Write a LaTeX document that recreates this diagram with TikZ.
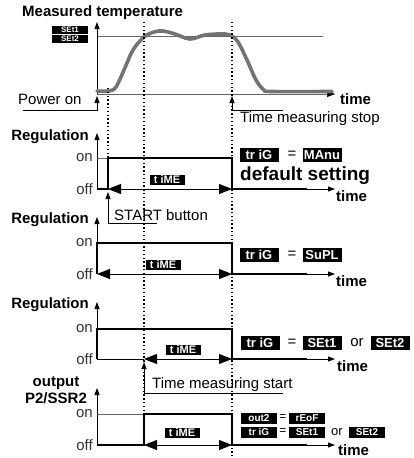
\documentclass[tikz,border=0pt]{standalone}
\usepackage{fontspec}
\setmainfont{Liberation Sans}
\usetikzlibrary{arrows.meta}
\tikzset{
  lbl/.style={font=\fontsize{15}{17}\selectfont, inner sep=0pt},
  bflbl/.style={font=\bfseries\fontsize{15}{17}\selectfont, inner sep=0pt},
  lvl/.style={font=\fontsize{15}{17}\selectfont, inner sep=0pt, anchor=east, text=black!80},
  disp/.style={fill=black, text=white, font=\bfseries\fontsize{13}{13}\selectfont, inner sep=0pt, minimum width=39pt, minimum height=14pt},
  disptm/.style={disp, font=\bfseries\fontsize{11}{11}\selectfont, minimum width=35pt, minimum height=10pt},
  dispsm/.style={disp, font=\bfseries\fontsize{10}{10}\selectfont, minimum width=36pt, minimum height=11pt},
  disptiny/.style={disp, font=\bfseries\fontsize{8}{8}\selectfont, minimum width=36pt, minimum height=8pt},
  thickline/.style={line width=2.8pt, line join=miter},
  thinline/.style={line width=0.7pt, black!60},
  axisarrow/.style={line width=0.8pt, -{Triangle[length=7pt,width=5pt]}},
  spanarrow/.style={line width=0.8pt, {Triangle[length=13pt,width=10pt]}-{Triangle[length=13pt,width=10pt]}},
  dotline/.style={line width=1.2pt, dash pattern=on 1.4pt off 2.4pt},
  tempcurve/.style={line width=3.6pt, black!55, line cap=round}
}
\begin{document}
\begin{tikzpicture}[x=1pt,y=-1pt]
\useasboundingbox (0,0) rectangle (413,458);
\node[bflbl, anchor=west] (mt) at (22,13) {Measured temperature};
\node[disptiny] (set1) at (70,30) {SEt1};
\node[disptiny] (set2) at (70,39) {SEt2};
\coordinate (a1) at (97,94);
\coordinate (a1top) at (97,22);
\coordinate (a1end) at (335,94);
\draw[thinline] (97,36) -- (323,36);
\draw[thinline, -{Triangle[length=8pt,width=6pt,black]}] (a1) -- (a1end);
\draw[axisarrow] (a1) -- (a1top);
\draw[tempcurve] plot[smooth, tension=0.55] coordinates {(97,91) (109,91) (116,87) (124,70) (133,50) (144,37) (154,32) (163,31) (175,34) (190,39) (205,35) (220,34) (230,35) (238,42) (247,60) (256,80) (264,90) (272,91.5) (332,91.5)};
\node[bflbl, anchor=west] (t1) at (340,99) {time};
\node[lbl, anchor=west] (pwr) at (18,99) {Power on};
\coordinate (pwrA) at (23,110);
\coordinate (pwrB) at (97,110);
\draw[axisarrow] (pwrA) -- (pwrB) -- (97,96);
\node[lbl, anchor=west] (stop) at (240,119) {Time measuring stop};
\coordinate (stopA) at (283,110);
\coordinate (stopB) at (232,110);
\draw[axisarrow] (stopA) -- (stopB) -- (232,96);
\draw[dotline] (108,88) -- (108,158);
\draw[dotline] (144,22) -- (144,414);
\draw[dotline] (232,22) -- (232,456);
% regulation, default
\node[bflbl, anchor=east] (reg2) at (89,137) {Regulation};
\draw[axisarrow] (97,189) -- (97,133);
\node[lvl] (on2) at (93,158) {on};
\node[lvl] (off2) at (93,189) {off};
\draw[thinline] (97,158) -- (108,158);
\draw[thickline] (97,189) -- (108,189) -- (108,158) -- (232,158) -- (232,189) -- (307,189);
\draw[axisarrow] (307,189) -- (335,189);
\draw[spanarrow] (108,189) -- (232,189);
\node[disptm] (tm2) at (167,180) {t iME};
\node[bflbl, anchor=west] (t2) at (336,196) {time};
\node[lbl, anchor=west] (start) at (114,215) {START button};
\coordinate (startA) at (157,223);
\coordinate (startB) at (108,223);
\draw[axisarrow] (startA) -- (startB) -- (108,192);
\node[disp] (trig2) at (259,155) {tr iG};
\node[lbl] (eq2) at (292,155) {=};
\node[disp] (manu) at (322,155) {MAnu};
\node[bflbl, anchor=west, font=\bfseries\fontsize{19}{21}\selectfont] (dflt) at (240,176) {default setting};
% regulation, SuPL
\node[bflbl, anchor=east] (reg3) at (89,220) {Regulation};
\draw[axisarrow] (97,274) -- (97,217);
\node[lvl] (on3) at (93,243) {on};
\node[lvl] (off3) at (93,274) {off};
\draw[thickline] (97,274) -- (97,243) -- (232,243) -- (232,274) -- (307,274);
\draw[axisarrow] (307,274) -- (335,274);
\draw[spanarrow] (97,274) -- (232,274);
\node[disptm] (tm3) at (163,265) {t iME};
\node[bflbl, anchor=west] (t3) at (336,281) {time};
\node[disp] (trig3) at (259,255) {tr iG};
\node[lbl] (eq3) at (292,255) {=};
\node[disp] (supl) at (322,255) {SuPL};
% regulation, SEt1 or SEt2
\node[bflbl, anchor=east] (reg4) at (89,305) {Regulation};
\draw[axisarrow] (97,359) -- (97,302);
\node[lvl] (on4) at (93,329) {on};
\node[lvl] (off4) at (93,359) {off};
\draw[thickline] (97,359) -- (97,329) -- (232,329) -- (232,359) -- (307,359);
\draw[line width=0.8pt] (97,359) -- (144,359);
\draw[axisarrow] (307,359) -- (335,359);
\draw[spanarrow] (144,359) -- (232,359);
\node[disptm] (tm4) at (183,350) {t iME};
\node[bflbl, anchor=west] (t4) at (337,366) {time};
\node[lbl, anchor=west] (mstart) at (152,385) {Time measuring start};
\coordinate (mstartA) at (283,393);
\coordinate (mstartB) at (144,393);
\draw[axisarrow] (mstartA) -- (mstartB) -- (144,362);
\node[disp] (trig4) at (260,343) {tr iG};
\node[lbl] (eq4) at (292,343) {=};
\node[disp] (s41) at (322,343) {SEt1};
\node[lbl] (or4) at (357,343) {or};
\node[disp] (s42) at (390,343) {SEt2};
% output
\node[bflbl, align=center] (outp) at (56,390) {output\\P2/SSR2};
\draw[axisarrow] (97,445) -- (97,388);
\node[lvl] (on5) at (93,414) {on};
\node[lvl] (off5) at (93,445) {off};
\draw[thinline] (97,414) -- (144,414);
\draw[thickline] (97,445) -- (144,445) -- (144,414) -- (232,414) -- (232,445) -- (307,445);
\draw[axisarrow] (307,445) -- (335,445);
\draw[spanarrow] (144,445) -- (232,445);
\node[disptm] (tm5) at (182,433) {t iME};
\node[bflbl, anchor=west] (t5) at (338,450) {time};
\node[dispsm] (out2) at (259,418) {out2};
\node[lbl, font=\fontsize{12}{14}\selectfont] (eq5a) at (283,418) {=};
\node[dispsm] (reof) at (307,418) {rEoF};
\node[dispsm] (trig5) at (259,432) {tr iG};
\node[lbl, font=\fontsize{12}{14}\selectfont] (eq5b) at (283,432) {=};
\node[dispsm] (s51) at (307,432) {SEt1};
\node[lbl, font=\fontsize{13}{15}\selectfont] (or5) at (337,432) {or};
\node[dispsm] (s52) at (367,432) {SEt2};
\end{tikzpicture}
\end{document}
